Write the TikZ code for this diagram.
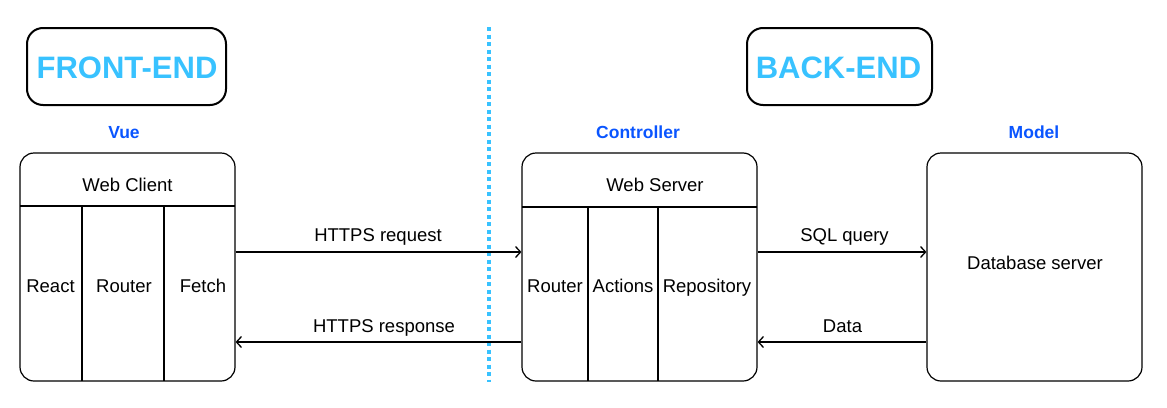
\documentclass[tikz,border=0pt]{standalone}
\usepackage{fontspec}
\setmainfont{Liberation Sans}
\usetikzlibrary{arrows.meta}
\definecolor{headblue}{RGB}{56,194,255}
\definecolor{tagblue}{RGB}{10,85,255}
\begin{document}
\begin{tikzpicture}[x=1pt,y=-1pt,
  titlebox/.style={draw, line width=2pt, rounded corners=16pt, inner sep=0pt,
     minimum width=199pt, minimum height=77pt},
  titletext/.style={text=headblue, font=\fontsize{31}{36}\selectfont\bfseries, anchor=base, inner sep=0pt},
  tagtext/.style={text=tagblue, font=\fontsize{17.5}{20}\selectfont\bfseries, anchor=base, inner sep=0pt},
  comp/.style={draw, line width=1.2pt, rounded corners=14pt, inner sep=0pt, minimum height=228pt},
  celltext/.style={font=\fontsize{18.5}{21}\selectfont, anchor=base, inner sep=0pt},
  divider/.style={line width=1.1pt},
  arr/.style={line width=1.3pt, -{Straight Barb[length=5pt,width=11pt,line width=1.3pt]}},
  sep/.style={draw=headblue, line width=4.5pt, dash pattern=on 4.3pt off 3.2pt}
]
\useasboundingbox (0,0) rectangle (1167,407);

% title boxes
\node[titlebox] (fe) at (126.5,66.5) {};
\node[titlebox, minimum width=185pt] (be) at (839.5,66.5) {};
\node[titletext] (fet) at (127,78) {FRONT-END};
\node[titletext] (bet) at (838.5,78) {BACK-END};

% separator
\coordinate (dtop) at (489,27);
\coordinate (dbot) at (489,382);
\draw[sep] (dtop) -- (dbot);

% tags
\node[tagtext] (vue) at (124,138) {Vue};
\node[tagtext] (ctl) at (638,138) {Controller};
\node[tagtext] (mdl) at (1034,138) {Model};

% components
\node[comp, minimum width=215pt] (client) at (127.5,267) {};
\node[comp, minimum width=235pt] (server) at (639.5,267) {};
\node[comp, minimum width=215pt] (db) at (1034.5,267) {};

% client internals
\draw[divider] (20,206) -- (235,206);
\draw[divider] (82,206) -- (82,381);
\draw[divider] (164,206) -- (164,381);
\node[celltext] (wc) at (127.5,191.5) {Web Client};
\node[celltext] (react) at (50.5,292) {React};
\node[celltext] (crouter) at (124,292) {Router};
\node[celltext] (fetch) at (203,292) {Fetch};

% server internals
\draw[divider] (522,207) -- (757,207);
\draw[divider] (588,207) -- (588,381);
\draw[divider] (658,207) -- (658,381);
\node[celltext] (ws) at (655,191.5) {Web Server};
\node[celltext] (srouter) at (555,292) {Router};
\node[celltext] (actions) at (623,292) {Actions};
\node[celltext] (repo) at (707,292) {Repository};

% db
\node[celltext] (dbt) at (1035,269) {Database server};

% connectors
\draw[arr] (client.east |- 0,252) -- (server.west |- 0,252);
\draw[arr] (server.west |- 0,342) -- (client.east |- 0,342);
\draw[arr] (server.east |- 0,252) -- (db.west |- 0,252);
\draw[arr] (db.west |- 0,342) -- (server.east |- 0,342);

\node[celltext] (l1) at (378,241) {HTTPS request};
\node[celltext] (l2) at (384,332) {HTTPS response};
\node[celltext] (l3) at (844.5,241) {SQL query};
\node[celltext] (l4) at (842.5,332) {Data};
\end{tikzpicture}
\end{document}
